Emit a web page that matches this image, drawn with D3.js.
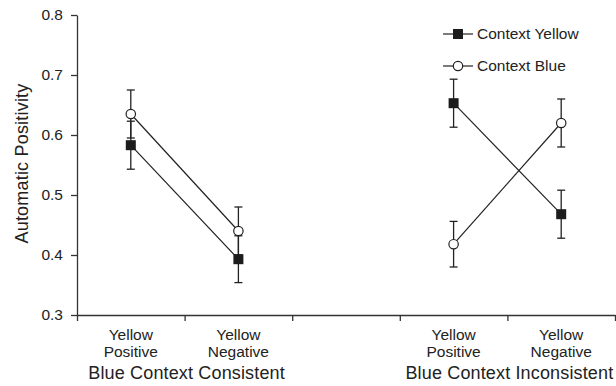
<!DOCTYPE html>
<html>
<head>
<meta charset="utf-8">
<script src="https://cdn.jsdelivr.net/npm/d3@7"></script>
<style>
	body { margin: 0; background: #fff; }
	svg text { font-family: "Liberation Sans", Arial, sans-serif; fill: #222; }
</style>
</head>
<body>
<svg id="chart"></svg>
<script>
// slot index of each condition along x (slot 2 is the empty gap)
const slots = [ 0, 1, 3, 4 ] ;
const condLabels = [ 'Yellow|Positive', 'Yellow|Negative', 'Yellow|Positive', 'Yellow|Negative' ] ;
const groupLabels = [ 'Blue Context Consistent', 'Blue Context Inconsistent' ] ;
const groupSlots = [ 0.5, 3.5 ] ;

const yellowMean = [ 0.583, 0.393, 0.653, 0.468 ] ;
const yellowErr  = [ 0.040, 0.039, 0.040, 0.040 ] ;
const blueMean   = [ 0.635, 0.440, 0.418, 0.620 ] ;
const blueErr    = [ 0.040, 0.040, 0.038, 0.040 ] ;

const yTicks = [ 0.3, 0.4, 0.5, 0.6, 0.7, 0.8 ] ;
const seriesNames = [ 'Context Yellow', 'Context Blue' ] ;

const geom = {
	width: 616,
	height: 386,
	margins: { left: 77, right: 1, top: 15, bottom: 71 }
} ;

const scales = {
	x: d3.scaleLinear()
		.domain( [0, 5] )
		.range( [ geom.margins.left, geom.width - geom.margins.right ] ),
	y: d3.scaleLinear()
		.domain( [0.3, 0.8] )
		.range( [ geom.height - geom.margins.bottom, geom.margins.top ] )
} ;

const svg = d3.select( '#chart' )
	.attr( 'width', geom.width )
	.attr( 'height', geom.height ) ;

const ink = '#222' ;

// axes
svg.append( 'g' )
	.attr( 'transform', 'translate(0 ' + scales.y(0.3) + ')' )
	.call( d3.axisBottom(scales.x).tickValues( [0,1,2,3,4,5] ).tickFormat( '' ).tickSize( 6 ).tickSizeOuter( 0 ) ) ;

const yAxis = svg.append( 'g' )
	.attr( 'transform', 'translate(' + geom.margins.left + ' 0)' )
	.call( d3.axisLeft(scales.y).tickValues( yTicks ).tickFormat( d3.format('.1f') ).tickSize( 6 ).tickPadding( 8 ).tickSizeOuter( 0 ) ) ;

svg.selectAll( '.domain, .tick line' ).attr( 'stroke', '#333' ).attr( 'stroke-width', 1.3 ) ;
yAxis.selectAll( 'text' ).style( 'font-size', '15.5px' ).attr( 'fill', ink ) ;

// category labels
const cat = svg.append( 'g' ) ;
condLabels.forEach( (lab, i) => {
	lab.split( '|' ).forEach( (p, j) => {
		cat.append( 'text' )
			.attr( 'x', scales.x(slots[i] + 0.5) )
			.attr( 'y', 339.5 + j * 17.7 )
			.attr( 'text-anchor', 'middle' )
			.style( 'font-size', '15.5px' )
			.text( p ) ;
	} ) ;
} ) ;
groupLabels.forEach( (lab, i) => {
	cat.append( 'text' )
		.attr( 'x', scales.x(groupSlots[i] + 0.5) + (i == 0 ? 2 : 2) )
		.attr( 'y', 378.5 )
		.attr( 'text-anchor', 'middle' )
		.style( 'font-size', '18px' )
		.style( 'letter-spacing', '0.15px' )
		.text( lab ) ;
} ) ;

// y title
svg.append( 'text' )
	.attr( 'transform', 'translate(28 163.5) rotate(-90)' )
	.attr( 'text-anchor', 'middle' )
	.style( 'font-size', '18px' )
	.style( 'letter-spacing', '0.2px' )
	.text( 'Automatic Positivity' ) ;

const series = [
	{ name: seriesNames[0], mean: yellowMean, err: yellowErr, marker: 'square' },
	{ name: seriesNames[1], mean: blueMean, err: blueErr, marker: 'circle' }
] ;

const line = d3.line()
	.x( d => scales.x(d.slot + 0.5) )
	.y( d => scales.y(d.mean) ) ;

const plot = svg.append( 'g' ) ;

series.forEach( s => {
	s.pts = slots.map( (slot, i) => ({ slot: slot, mean: s.mean[i], err: s.err[i] }) ) ;
	// one line per group
	[ s.pts.slice(0,2), s.pts.slice(2,4) ].forEach( seg => {
		plot.append( 'path' )
			.attr( 'd', line(seg) )
			.attr( 'fill', 'none' )
			.attr( 'stroke', ink )
			.attr( 'stroke-width', 1.2 ) ;
	} ) ;
} ) ;

series.forEach( s => {
	const eb = plot.append( 'g' ).selectAll( 'g' ).data( s.pts ).enter().append( 'g' ) ;
	eb.append( 'line' )
		.attr( 'x1', d => scales.x(d.slot + 0.5) )
		.attr( 'x2', d => scales.x(d.slot + 0.5) )
		.attr( 'y1', d => scales.y(d.mean - d.err) )
		.attr( 'y2', d => scales.y(d.mean + d.err) )
		.attr( 'stroke', ink ).attr( 'stroke-width', 1.3 ) ;
	[ -1, 1 ].forEach( sgn => {
		eb.append( 'line' )
			.attr( 'x1', d => scales.x(d.slot + 0.5) - 4 )
			.attr( 'x2', d => scales.x(d.slot + 0.5) + 4 )
			.attr( 'y1', d => scales.y(d.mean + sgn * d.err) )
			.attr( 'y2', d => scales.y(d.mean + sgn * d.err) )
			.attr( 'stroke', ink ).attr( 'stroke-width', 1.3 ) ;
	} ) ;
} ) ;

function drawMarker( g, kind, x, y ) {
	if( kind == 'square' ) {
		g.append( 'rect' )
			.attr( 'x', x - 5 ).attr( 'y', y - 5 )
			.attr( 'width', 10 ).attr( 'height', 10 )
			.attr( 'fill', '#1c1c1c' ) ;
	} else {
		g.append( 'circle' )
			.attr( 'cx', x ).attr( 'cy', y ).attr( 'r', 4.7 )
			.attr( 'fill', '#fff' )
			.attr( 'stroke', ink ).attr( 'stroke-width', 1.2 ) ;
	}
}

series.forEach( s => {
	s.pts.forEach( d => drawMarker( plot, s.marker, scales.x(d.slot + 0.5), scales.y(d.mean) ) ) ;
} ) ;

// legend
const legend = svg.append( 'g' ) ;
series.forEach( (s, i) => {
	const ly = 34 + i * 32 ;
	legend.append( 'line' )
		.attr( 'x1', 443 ).attr( 'x2', 473 )
		.attr( 'y1', ly ).attr( 'y2', ly )
		.attr( 'stroke', ink ).attr( 'stroke-width', 1.2 ) ;
	drawMarker( legend, s.marker, 458, ly ) ;
	legend.append( 'text' )
		.attr( 'x', 477 ).attr( 'y', ly + 5 )
		.style( 'font-size', '15.5px' )
		.text( s.name ) ;
} ) ;
</script>
</body>
</html>
